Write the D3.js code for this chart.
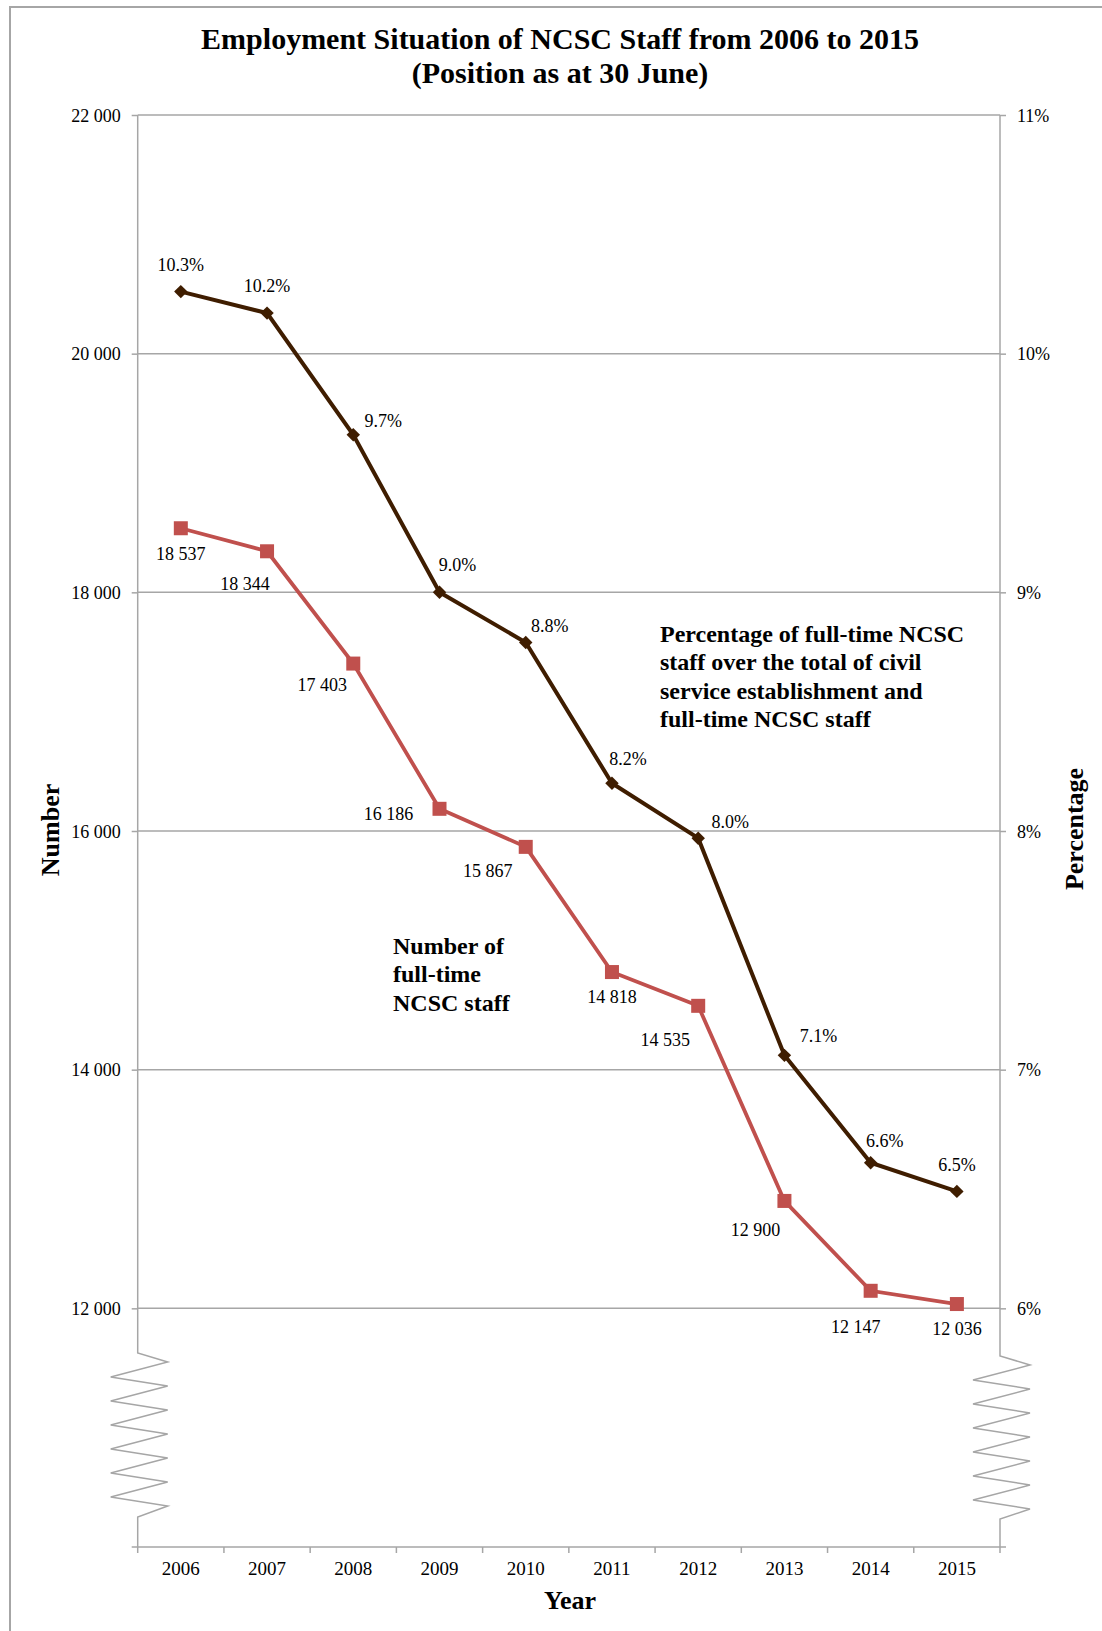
<!DOCTYPE html>
<html>
<head>
<meta charset="utf-8">
<script src="https://cdn.jsdelivr.net/npm/d3@7"></script>
<style>
  body { margin: 0; background: #fff; }
  svg { display: block; }
  text { font-family: "Liberation Serif", "Times New Roman", serif; fill: #000; }
</style>
</head>
<body>
<div id="chart"></div>
<script>
// data
const years = ['2006', '2007', '2008', '2009', '2010', '2011', '2012', '2013', '2014', '2015'];
const staffNumbers = [18537, 18344, 17403, 16186, 15867, 14818, 14535, 12900, 12147, 12036];
const staffPercent = [10.26, 10.17, 9.66, 9.0, 8.79, 8.2, 7.97, 7.06, 6.61, 6.49];
const numberTicks = [12000, 14000, 16000, 18000, 20000, 22000];
const percentTicks = [6, 7, 8, 9, 10, 11];

// label nudges (dx, dy from marker centre)
const pctLabelOffset = [[0, -27], [0, -27], [30, -14], [18, -28], [24, -17], [16, -25], [32, -16], [34, -20], [14, -22], [0, -27]];
const numLabelOffset = [[0, 25], [-22, 32], [-31, 21], [-51, 5], [-38, 24], [0, 25], [-33, 34], [-29, 29], [-15, 36], [0, 25]];

const W = 1102, H = 1631;
const plotL = 137.7, plotR = 1000, plotT = 115, plotB = 1547;
const grey = '#a6a6a6';
const brown = '#3f1d00';
const red = '#c0504d';

const svg = d3.select('#chart').append('svg')
    .attr('width', W)
    .attr('height', H);

// outer chart border
svg.append('rect')
    .attr('x', 10).attr('y', 7)
    .attr('width', 1110).attr('height', 1650)
    .attr('fill', '#fff')
    .attr('stroke', grey)
    .attr('stroke-width', 2);

const x = d3.scaleBand().domain(years).range([plotL, plotR]).padding(0);
const yNum = d3.scaleLinear().domain([10000, 22000]).range([plotB, plotT]);
const yPct = d3.scaleLinear().domain([5, 11]).range([plotB, plotT]);
const cx = d => x(d) + x.bandwidth() / 2;

const fmtNum = v => d3.format(',')(v).replace(/,/g, ' ');

// gridlines
svg.append('g').selectAll('line')
    .data(numberTicks)
    .join('line')
    .attr('x1', plotL).attr('x2', plotR)
    .attr('y1', d => yNum(d)).attr('y2', d => yNum(d))
    .attr('stroke', grey).attr('stroke-width', 1.5);

// left axis
const yAxisL = svg.append('g')
    .attr('transform', `translate(${plotL},0)`)
    .call(d3.axisLeft(yNum).tickValues(numberTicks).tickSize(6).tickFormat(fmtNum));
yAxisL.select('.domain').remove();
yAxisL.selectAll('line').attr('stroke', grey).attr('stroke-width', 1.5);
yAxisL.selectAll('text').attr('font-size', 18).attr('x', -17).attr('dy', '0.35em')
    .style('font-family', '"Liberation Serif", serif');

// right axis
const yAxisR = svg.append('g')
    .attr('transform', `translate(${plotR},0)`)
    .call(d3.axisRight(yPct).tickValues(percentTicks).tickSize(6).tickFormat(d => d + '%'));
yAxisR.select('.domain').remove();
yAxisR.selectAll('line').attr('stroke', grey).attr('stroke-width', 1.5);
yAxisR.selectAll('text').attr('font-size', 18).attr('x', 17).attr('dy', '0.35em')
    .style('font-family', '"Liberation Serif", serif');

// broken vertical axes with zigzag
function zigzag(x0, yTop, yBot) {
    const pts = [[x0, plotT], [x0, yTop]];
    for (let k = 0; k < 7; k++) {
        pts.push([x0 + 30, yTop + 9 + k * 24]);
        if (k < 6) pts.push([x0 - 27, yTop + 24 + k * 24]);
    }
    pts.push([x0, yBot], [x0, plotB]);
    return pts;
}
[[plotL, 1353, 1517], [plotR, 1356, 1519]].forEach(([x0, a, b]) => {
    svg.append('path')
        .attr('d', d3.line()(zigzag(x0, a, b)))
        .attr('fill', 'none')
        .attr('stroke', grey)
        .attr('stroke-width', 1.5);
});

// bottom axis
svg.append('line')
    .attr('x1', plotL - 6).attr('x2', plotR + 6)
    .attr('y1', plotB).attr('y2', plotB)
    .attr('stroke', grey).attr('stroke-width', 1.5);
svg.append('g').selectAll('line')
    .data(years.concat(['end']))
    .join('line')
    .attr('x1', (d, i) => plotL + i * x.bandwidth())
    .attr('x2', (d, i) => plotL + i * x.bandwidth())
    .attr('y1', plotB).attr('y2', plotB + 6)
    .attr('stroke', grey).attr('stroke-width', 1.5);
svg.append('g').selectAll('text')
    .data(years)
    .join('text')
    .attr('x', d => cx(d))
    .attr('y', 1568)
    .attr('dy', '0.35em')
    .attr('text-anchor', 'middle')
    .attr('font-size', 19)
    .text(d => d);

// number series
const lineNum = d3.line().x((d, i) => cx(years[i])).y(d => yNum(d));
svg.append('path')
    .attr('d', lineNum(staffNumbers))
    .attr('fill', 'none')
    .attr('stroke', red)
    .attr('stroke-width', 3.8);
svg.append('g').selectAll('rect')
    .data(staffNumbers)
    .join('rect')
    .attr('x', (d, i) => cx(years[i]) - 7)
    .attr('y', d => yNum(d) - 7)
    .attr('width', 14).attr('height', 14)
    .attr('fill', red);
svg.append('g').selectAll('text')
    .data(staffNumbers)
    .join('text')
    .attr('x', (d, i) => cx(years[i]) + numLabelOffset[i][0])
    .attr('y', (d, i) => yNum(d) + numLabelOffset[i][1])
    .attr('dy', '0.35em')
    .attr('text-anchor', 'middle')
    .attr('font-size', 18)
    .text(d => fmtNum(d));

// percentage series
const linePct = d3.line().x((d, i) => cx(years[i])).y(d => yPct(d));
svg.append('path')
    .attr('d', linePct(staffPercent))
    .attr('fill', 'none')
    .attr('stroke', brown)
    .attr('stroke-width', 4);
const diamond = d3.symbol().type(d3.symbolDiamond2).size(115);
svg.append('g').selectAll('path')
    .data(staffPercent)
    .join('path')
    .attr('d', diamond)
    .attr('transform', (d, i) => `translate(${cx(years[i])},${yPct(d)})`)
    .attr('fill', brown);
svg.append('g').selectAll('text')
    .data(staffPercent)
    .join('text')
    .attr('x', (d, i) => cx(years[i]) + pctLabelOffset[i][0])
    .attr('y', (d, i) => yPct(d) + pctLabelOffset[i][1])
    .attr('dy', '0.35em')
    .attr('text-anchor', 'middle')
    .attr('font-size', 18)
    .text(d => d.toFixed(1) + '%');

// title
const title = svg.append('text')
    .attr('text-anchor', 'middle')
    .attr('font-size', 30)
    .attr('font-weight', 'bold');
title.append('tspan').attr('x', 560).attr('y', 49).text('Employment Situation of NCSC Staff from 2006 to 2015');
title.append('tspan').attr('x', 560).attr('y', 83).text('(Position as at 30 June)');

// axis titles
svg.append('text')
    .attr('transform', 'translate(50,830) rotate(-90)')
    .attr('text-anchor', 'middle')
    .attr('dy', '0.35em')
    .attr('font-size', 26)
    .attr('font-weight', 'bold')
    .text('Number');
svg.append('text')
    .attr('transform', 'translate(1074,829) rotate(-90)')
    .attr('text-anchor', 'middle')
    .attr('dy', '0.35em')
    .attr('font-size', 26)
    .attr('font-weight', 'bold')
    .text('Percentage');
svg.append('text')
    .attr('x', 570).attr('y', 1609)
    .attr('text-anchor', 'middle')
    .attr('font-size', 26)
    .attr('font-weight', 'bold')
    .text('Year');

// series annotations
const noteLines = (lines, x0, y0) => {
    const t = svg.append('text').attr('font-size', 24).attr('font-weight', 'bold');
    lines.forEach((s, i) => t.append('tspan').attr('x', x0).attr('y', y0 + i * 28.4).text(s));
};
noteLines(['Percentage of full-time NCSC', 'staff over the total of civil',
           'service establishment and', 'full-time NCSC  staff'], 660, 642);
noteLines(['Number of', 'full-time', 'NCSC staff'], 393, 954);
</script>
</body>
</html>
